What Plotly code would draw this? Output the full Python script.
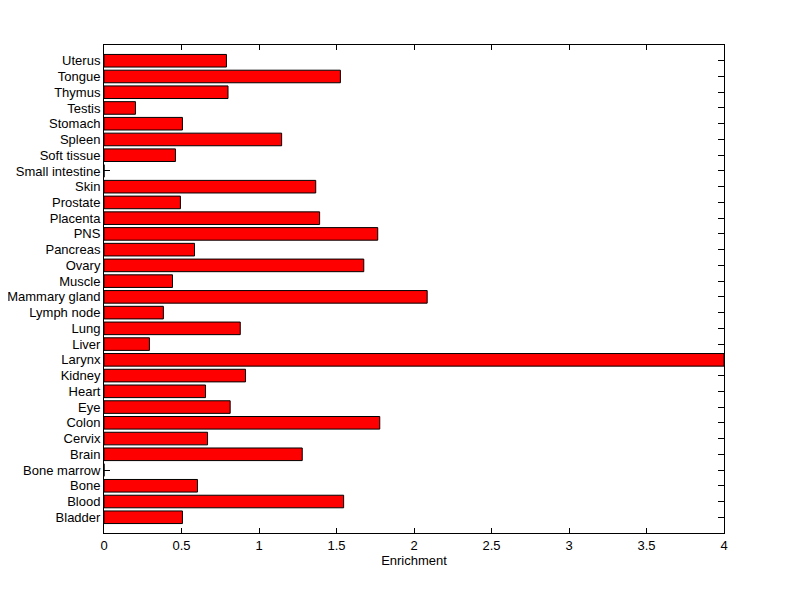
import plotly.graph_objects as go

tissues = ["Bladder", "Blood", "Bone", "Bone marrow", "Brain", "Cervix", "Colon", "Eye",
           "Heart", "Kidney", "Larynx", "Liver", "Lung", "Lymph node", "Mammary gland",
           "Muscle", "Ovary", "Pancreas", "PNS", "Placenta", "Prostate", "Skin",
           "Small intestine", "Soft tissue", "Spleen", "Stomach", "Testis", "Thymus",
           "Tongue", "Uterus"]
enrichment = [0.506, 1.546, 0.603, 0.0, 1.279, 0.668, 1.779, 0.814,
              0.655, 0.913, 4.0, 0.293, 0.879, 0.383, 2.085,
              0.442, 1.676, 0.584, 1.766, 1.391, 0.493, 1.366,
              0.0, 0.461, 1.146, 0.506, 0.203, 0.80,
              1.525, 0.79]
x_ticks = [0, 0.5, 1, 1.5, 2, 2.5, 3, 3.5, 4]
x_tick_labels = ["0", "0.5", "1", "1.5", "2", "2.5", "3", "3.5", "4"]

fig = go.Figure()
fig.add_trace(go.Bar(
    x=enrichment,
    y=list(range(len(tissues))),
    orientation="h",
    width=0.8,
    marker=dict(color="#ff0000", line=dict(color="black", width=1)),
    hoverinfo="x+text",
    text=tissues,
    textposition="none",
))

font = dict(family="Liberation Sans, Arial, sans-serif", size=13, color="black")

fig.update_layout(
    width=792, height=591,
    margin=dict(l=96, r=76, t=37, b=66, autoexpand=False),
    paper_bgcolor="white", plot_bgcolor="white",
    showlegend=False,
    font=font,
    xaxis=dict(
        range=[0, 4], tickvals=x_ticks, ticktext=x_tick_labels,
        ticks="inside", ticklen=5, tickwidth=1, tickcolor="black",
        showline=True, linecolor="black", linewidth=1, mirror="ticks",
        showgrid=False, zeroline=False,
        title=dict(text="Enrichment", standoff=4, font=font),
        layer="below traces", automargin=False,
    ),
    yaxis=dict(
        range=[-1, len(tissues)], tickvals=list(range(len(tissues))), ticktext=tissues,
        ticks="inside", ticklen=6, tickwidth=1, tickcolor="black",
        showline=True, linecolor="black", linewidth=1, mirror="ticks",
        showgrid=False, zeroline=False,
        layer="below traces", automargin=False,
    ),
)

fig.write_html("out.html")
